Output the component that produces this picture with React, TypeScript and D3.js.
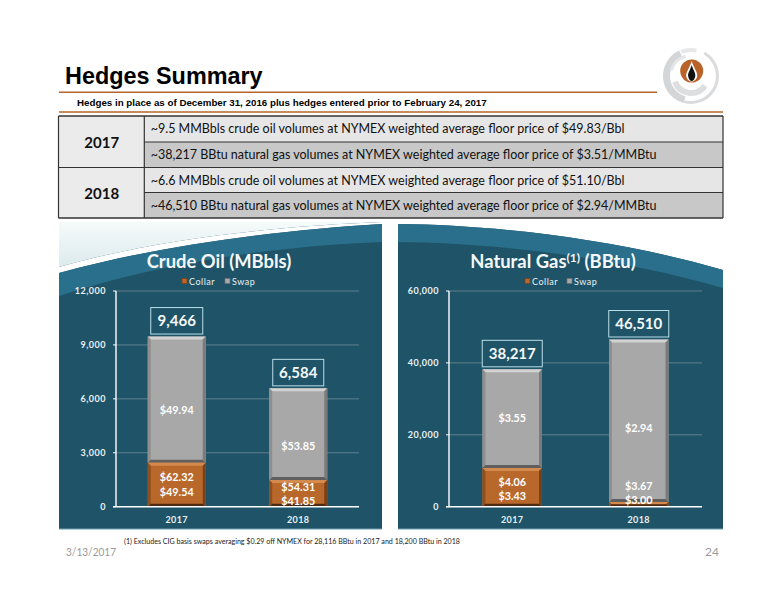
import React from "react";
import * as d3 from "d3";

const years = ["2017", "2018"];
const oilCollar = [2448, 1485];
const oilTotal = [9466, 6584];
const gasCollar = [10765, 1300];
const gasTotal = [38217, 46510];
const oilTicks = [0, 3000, 6000, 9000, 12000];
const gasTicks = [0, 20000, 40000, 60000];
const oilSwapPrice = ["$49.94", "$53.85"];
const gasSwapPrice = ["$3.55", "$2.94"];
const oilCollarPrices = [["$62.32", "$49.54"], ["$54.31", "$41.85"]];
const gasCollarPrices = [["$4.06", "$3.43"], ["$3.67", "$3.00"]];
const legendItems = ["Collar", "Swap"];
const tableYears = ["2017", "2018"];
const tableRows = [
  "~9.5 MMBbls crude oil volumes at NYMEX weighted average floor price of $49.83/Bbl",
  "~38,217 BBtu natural gas volumes at NYMEX weighted average floor price of $3.51/MMBtu",
  "~6.6 MMBbls crude oil volumes at NYMEX weighted average floor price of $51.10/Bbl",
  "~46,510 BBtu natural gas volumes at NYMEX weighted average floor price of $2.94/MMBtu",
];

const FONT = "Lato, 'Open Sans', sans-serif";
const ARIAL = "'Liberation Sans', Arial, sans-serif";
const TXT = "#e9f0f2";
const y0 = 506.7, y1 = 291;

const palette = {
  gray: { main: "#a8a8a8", top: "#d2d2d2", left: "#8f8f8f", right: "#7b7b7b", bottom: "#5f5f5f" },
  orange: { main: "#b9682c", top: "#d58a4d", left: "#8f4f20", right: "#7a4119", bottom: "#4d2a12" },
};

function Bevel({ x, y, w, h, c }: { x: number; y: number; w: number; h: number; c: typeof palette.gray }) {
  const b = Math.min(3, h / 2);
  const x2 = x + w, y2 = y + h;
  return (
    <g>
      <rect x={x} y={y} width={w} height={h} fill={c.main} />
      <polygon points={`${x},${y} ${x2},${y} ${x2 - b},${y + b} ${x + b},${y + b}`} fill={c.top} />
      <polygon points={`${x},${y} ${x + b},${y + b} ${x + b},${y2 - b} ${x},${y2}`} fill={c.left} />
      <polygon points={`${x2},${y} ${x2 - b},${y + b} ${x2 - b},${y2 - b} ${x2},${y2}`} fill={c.right} />
      <polygon points={`${x},${y2} ${x + b},${y2 - b} ${x2 - b},${y2 - b} ${x2},${y2}`} fill={c.bottom} />
    </g>
  );
}

type ChartProps = {
  left: number; right: number; title: React.ReactNode; titleX: number;
  ticks: number[]; max: number; collar: number[]; total: number[];
  swapPrice: string[]; collarPrices: string[][];
  swapY: number[]; collarY: number[][]; boxW: number[]; legendX: number[]; bw: number;
};

function Chart(p: ChartProps) {
  const y = d3.scaleLinear().domain([0, p.max]).range([y0, y1]);
  const x = d3.scaleBand().domain(years).range([p.left, p.right]).paddingInner(0.52).paddingOuter(0.26);
  const fmt = d3.format(",");
  const bw = p.bw;
  return (
    <g fontFamily={FONT}>
      <text x={p.titleX} y={268} textAnchor="middle" fill="#f4f8f9" fontSize={18.4} fontWeight={700}>{p.title}</text>
      {legendItems.map((l, i) => (
        <g key={l}>
          <rect x={p.legendX[i]} y={278.5} width={5} height={5} fill={i === 0 ? "#b9682c" : "#a8a8a8"} stroke={i === 0 ? "#7a4119" : "#6f6f6f"} strokeWidth={0.7} />
          <text x={p.legendX[i] + 7} y={284.5} fill={TXT} fontSize={9} letterSpacing={0.5}>{l}</text>
        </g>
      ))}
      {p.ticks.map((t) => (
        <g key={t}>
          {t > 0 && <line x1={p.left} x2={p.right} y1={y(t)} y2={y(t)} stroke="#5e7f8d" strokeWidth={1} />}
          <line x1={p.left - 3} x2={p.left} y1={y(t)} y2={y(t)} stroke="#fff" strokeWidth={1} />
          <text x={p.left - 10} y={y(t) + 3} textAnchor="end" fill={TXT} fontSize={9} fontWeight={700} letterSpacing={0.5}>{fmt(t)}</text>
        </g>
      ))}
      {years.map((yr, i) => {
        const cx = x(yr)! + x.bandwidth() / 2;
        const bx = cx - bw / 2;
        const bh = p.boxW[i];
        return (
          <g key={yr}>
            <Bevel x={bx} y={y(p.total[i])} w={bw} h={y(p.collar[i]) - y(p.total[i])} c={palette.gray} />
            <Bevel x={bx} y={y(p.collar[i])} w={bw} h={y0 - y(p.collar[i])} c={palette.orange} />
            <text x={cx} y={y(p.total[i]) + p.swapY[i]} textAnchor="middle" fill="#fff" fontSize={10.8} fontWeight={700}>{p.swapPrice[i]}</text>
            {p.collarPrices[i].map((s, k) => (
              <text key={s} x={cx} y={p.collarY[i][k]} textAnchor="middle" fill="#fff" fontSize={10.8} fontWeight={700}>{s}</text>
            ))}
            <rect x={cx - bh / 2} y={y(p.total[i]) - 29} width={bh} height={26.5} fill="#1f5468" stroke="#b9dde6" strokeWidth={1} />
            <text x={cx} y={y(p.total[i]) - 10.5} textAnchor="middle" fill="#f4f8f9" fontSize={15} fontWeight={700}>{fmt(p.total[i])}</text>
            <text x={cx} y={522.5} textAnchor="middle" fill={TXT} fontSize={9} fontWeight={700} letterSpacing={0.4}>{yr}</text>
          </g>
        );
      })}
      <line x1={p.left} x2={p.left} y1={y1} y2={y0} stroke="#fff" strokeWidth={1.4} />
      <line x1={p.left - 3} x2={p.right} y1={y0} y2={y0} stroke="#fff" strokeWidth={1.4} />
    </g>
  );
}

function Logo() {
  const cx = 691, cy = 76;
  const arc = d3.arc();
  const a = (r0: number, r1: number, s: number, e: number) =>
    arc({ innerRadius: r0, outerRadius: r1, startAngle: (s * Math.PI) / 180, endAngle: (e * Math.PI) / 180 })!;
  return (
    <g transform={`translate(${cx},${cy})`}>
      <path d={a(21, 28, 195, 335)} fill="#d3d5d6" />
      <path d={a(24, 28, 338, 372)} fill="#e6e7e8" />
      <path d={a(25, 28, 30, 195)} fill="#d9dbdc" />
      <path d={a(14, 20, 125, 250)} fill="#dcdee0" />
      <path d={a(19, 22, 285, 345)} fill="#e4e6e7" />
      <circle cx={0.7} cy={-5} r={11.5} fill="#b9622a" />
      <path d="M0.7,-15 C2.7,-8 6.7,-4 6.2,0 C5.7,4 2.7,5.5 0.7,5.5 C-1.3,5.5 -4.3,4 -4.8,0 C-5.3,-4 -1.3,-8 0.7,-15Z" fill="#fff" />
      <path d="M0.7,-11 C2.2,-6 4.7,-3 4.3,0 C3.9,3 2.2,5 0.7,5 C-0.8,5 -2.5,3 -2.9,0 C-3.3,-3 -0.8,-6 0.7,-11Z" fill="#111" />
    </g>
  );
}

export default function App() {
  const rowTops = [116, 142, 167.5, 192.5, 218];
  const tL = 58.5, tM = 144.3, tR = 723;
  const tBottom = rowTops[4];
  return (
    <svg width={776} height={600} viewBox="0 0 776 600" style={{ position: "absolute", left: 0, top: 0, background: "#fff" }}>
      <defs>
        <linearGradient id="wedge" x1="0" y1="0" x2="0" y2="1">
          <stop offset="0" stopColor="#f6fafa" />
          <stop offset="1" stopColor="#dcebee" />
        </linearGradient>
        <linearGradient id="bandL" x1="0" y1="1" x2="1" y2="0">
          <stop offset="0" stopColor="#29708c" />
          <stop offset="1" stopColor="#2a6f8b" />
        </linearGradient>
        <clipPath id="pl"><rect x={59} y={222} width={323} height={307} /></clipPath>
        <clipPath id="pr"><rect x={398} y={222} width={325} height={307} /></clipPath>
      </defs>

      <text x={65} y={84} fontFamily={ARIAL} fontWeight={700} fontSize={23.4} fill="#000">Hedges Summary</text>
      <line x1={59} x2={657} y1={92.3} y2={92.3} stroke="#b5652b" strokeWidth={1.4} />
      <text x={77} y={106} fontFamily={ARIAL} fontWeight={700} fontSize={9.75} fill="#000">Hedges in place as of December 31, 2016 plus hedges entered prior to February 24, 2017</text>
      <line x1={59} x2={723} y1={112} y2={112} stroke="#b5652b" strokeWidth={1.4} />
      <Logo />

      <g fontFamily={FONT}>
        <rect x={tL} y={rowTops[0]} width={tM - tL} height={tBottom - rowTops[0]} fill="#ebebeb" />
        {tableRows.map((r, i) => (
          <g key={r}>
            <rect x={tM} y={rowTops[i]} width={tR - tM} height={rowTops[i + 1] - rowTops[i]} fill={i % 2 === 0 ? "#e6e6e6" : "#c8c8c8"} />
            <text x={150.7} y={rowTops[i] + 17} fontSize={12.5} fill="#111">{r}</text>
          </g>
        ))}
        {tableYears.map((y, i) => (
          <text key={y} x={101.7} y={rowTops[2 * i + 1] + 6} textAnchor="middle" fontSize={15} fontWeight={700} fill="#111">{y}</text>
        ))}
        {rowTops.map((ry, i) => (
          <line key={i} x1={i % 2 === 0 ? tL : tM} x2={tR} y1={ry} y2={ry} stroke="#333" strokeWidth={i === 0 || i === 4 ? 1.6 : 1.1} />
        ))}
        {[tL, tM, tR].map((lx) => (
          <line key={lx} x1={lx} x2={lx} y1={rowTops[0]} y2={tBottom} stroke="#333" strokeWidth={1.2} />
        ))}
      </g>

      <g clipPath="url(#pl)">
        <rect x={59} y={222} width={323} height={307} fill="#1f5468" />
        <path d="M59,222 L382,222 L382,222 C280,226 160,238 59,267 Z" fill="url(#wedge)" />
        <path d="M59,267 C160,238 280,226 382,222 L382,224 C280,230 160,245 59,273 Z" fill="#fff" />
        <path d="M59,273 C160,245 280,230 382,224 L382,242 C280,246 160,262 59,296 Z" fill="url(#bandL)" />
      </g>
      <rect x={59} y={528.5} width={323} height={1} fill="#6aa0b0" />

      <g clipPath="url(#pr)">
        <rect x={398} y={222} width={325} height={307} fill="#1f5468" />
        <path d="M398,224 C500,225 620,240 723,270 L723,222 L398,222 Z" fill="#fff" />
        <path d="M398,224 C500,225 620,240 723,270 L723,288 C620,258 500,243 398,242 Z" fill="url(#bandL)" />
      </g>
      <rect x={398} y={528.5} width={325} height={1} fill="#6aa0b0" />

      <Chart left={116} right={359} titleX={219} title="Crude Oil (MBbls)" ticks={oilTicks} max={12000}
        collar={oilCollar} total={oilTotal} swapPrice={oilSwapPrice} collarPrices={oilCollarPrices}
        swapY={[77.5, 61.5]} collarY={[[481, 495.7], [490.7, 505]]} boxW={[52, 51]} legendX={[182, 225]} bw={58} />
      <Chart left={449} right={702} titleX={553}
        title={<>Natural Gas<tspan fontSize={12} dy={-6}>(1)</tspan><tspan dy={6}> (BBtu)</tspan></>}
        ticks={gasTicks} max={60000}
        collar={gasCollar} total={gasTotal} swapPrice={gasSwapPrice} collarPrices={gasCollarPrices}
        swapY={[52.5, 92.5]} collarY={[[486, 500], [490, 504]]} boxW={[60, 60]} legendX={[525, 567]} bw={59.5} />

      <g fontFamily={FONT}>
        <text x={124} y={544} fontSize={7.1} fill="#222">(1)  Excludes CIG basis swaps averaging $0.29 off NYMEX for 28,116 BBtu in 2017 and 18,200 BBtu in 2018</text>
        <text x={66} y={556} fontSize={12} fill="#9a9a9a" textLength={50} lengthAdjust="spacingAndGlyphs">3/13/2017</text>
        <text x={719} y={556} textAnchor="end" fontSize={12} fill="#9a9a9a">24</text>
      </g>
    </svg>
  );
}
